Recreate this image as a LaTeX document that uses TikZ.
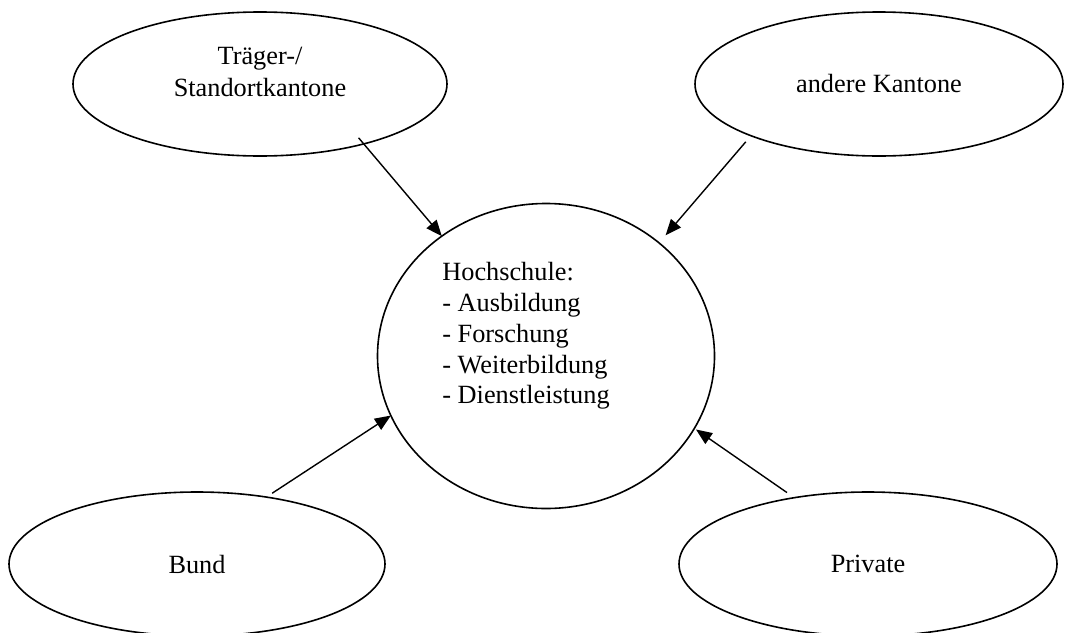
\documentclass[tikz,border=0pt]{standalone}
\usepackage{fontspec}
\setmainfont{Liberation Serif}
\usetikzlibrary{arrows.meta,shapes.geometric}

\begin{document}
\begin{tikzpicture}[x=1pt,y=-1pt,
  oval/.style={draw,ellipse,line width=1.6pt,inner sep=0pt,outer sep=0pt,
    font=\fontsize{26.3}{32}\selectfont},
  txt/.style={inner sep=0pt,outer sep=0pt},
  pfeil/.style={line width=1.4pt,-{Triangle[length=16pt,width=13pt]}}]

\useasboundingbox (0,0) rectangle (1075,632);

\node[oval,minimum width=374pt,minimum height=144pt,
  label={[txt,name=Ttext,align=center,yshift=12pt,font=\fontsize{26.3}{32}\selectfont]center:{Träger-/\\Standortkantone}}] (T) at (260,84) {};
\node[oval,minimum width=368pt,minimum height=144pt] (A) at (879,84) {andere Kantone};
\node[oval,minimum width=376pt,minimum height=144pt] (B) at (197,564) {Bund};
\node[oval,minimum width=378pt,minimum height=144pt] (P) at (868,564) {Private};

\node[oval,minimum width=337pt,minimum height=305pt,
  label={[txt,name=Htext,align=left,xshift=-20pt,yshift=20pt,font=\fontsize{26.3}{30.8}\selectfont]center:{Hochschule:\\- Ausbildung\\- Forschung\\- Weiterbildung\\- Dienstleistung}}] (H) at (546,356) {};

\draw[pfeil,shorten <=-8pt] (T.-30) -- (H.131);
\draw[pfeil,shorten <=8pt,shorten >=10pt] (A.-158) -- (H.45);
\draw[pfeil,shorten <=7pt] (B.44) -- (H.201);
\draw[pfeil,shorten <=9pt,shorten >=2pt] (P.138) -- (H.-26);

\end{tikzpicture}
\end{document}
